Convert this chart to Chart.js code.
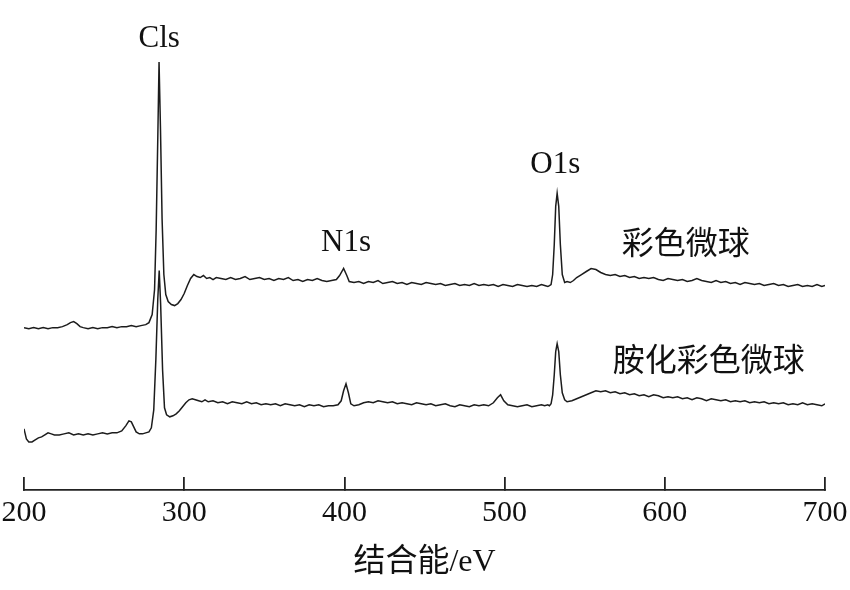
<!DOCTYPE html>
<html>
<head>
<meta charset="utf-8">
<script src="https://cdn.jsdelivr.net/npm/chart.js@4"></script>
<style>
  html, body { margin: 0; padding: 0; background: #fff; }
  #wrap { width: 850px; height: 590px; }
</style>
</head>
<body>
<div id="wrap"><canvas id="xps"></canvas></div>
<script>
// binding energy (eV) and intensity (a.u.)
const upperX = [200,203,206,209,212,215,218,221,224,227,229,231,233,235,237,240,243,246,249,252,255,258,261,264,267,270,273,276,278,280,281.5,282.5,283.5,284.3,285.2,286.2,287.3,288.5,290,292,294,296,298,300,302,304,306,308,310,312,314,316,318,320,323,326,329,332,335,338,341,344,347,350,353,356,359,362,365,368,371,374,377,380,383,386,389,392,395,397,399.5,401.5,403,406,409,412,415,418,421,424,427,430,433,436,439,442,445,448,451,454,457,460,463,466,469,472,475,478,481,484,487,490,493,496,499,502,505,508,511,514,517,520,523,525,527,528,529,530,531,531.9,532.8,533.8,534.8,536,537.5,539,541,543,545,548,551,554,557,560,563,566,569,572,575,578,581,584,587,590,593,596,599,602,605,608,611,614,617,620,623,626,629,632,635,638,641,644,647,650,653,656,659,662,665,668,671,674,677,680,683,686,689,692,695,698,700];
const upperY = [162,161,162,161,162,161,162,162,163,165,167,168,166,163,162,161,162,161,162,162,163,162,163,163,164,163,164,165,167,175,200,260,350,427,360,270,215,195,188,185,184,186,190,196,204,211,215,213,212,214,211,212,210,212,211,210,212,210,211,213,210,211,212,210,211,209,211,210,212,209,210,208,210,209,211,209,208,209,210,214,221,214,208,207,208,206,208,207,209,206,207,208,206,207,205,207,206,205,207,206,205,206,204,205,206,204,205,204,206,204,205,204,205,203,205,204,203,205,204,203,204,203,205,204,203,204,205,215,245,283,296,283,245,215,207,208,207,209,212,215,218,221,220,217,215,214,215,213,214,212,213,211,212,211,212,210,209,211,210,209,210,208,209,211,209,208,207,209,207,208,206,207,205,207,206,205,206,204,205,206,204,205,203,204,205,203,204,203,205,203,204,204];

const lowerX = [200,201.5,203,205,207,209,211,213,215,217,219,222,225,228,231,234,237,240,243,246,249,252,255,258,261,263.5,265.5,267,268.5,270,272,274,276,278,279.5,281,282.3,283.5,284.4,285.3,286.5,287.7,289,291,293,295,297,299,301,303,305,307,309,311,313,315,318,321,324,327,330,333,336,339,342,345,348,351,354,357,360,363,366,369,372,375,378,381,384,387,390,393,396,398,399.5,401,402.5,404,406,409,412,415,418,421,424,427,430,433,436,439,442,445,448,451,454,457,460,463,466,469,472,475,478,481,484,487,490,493,495.5,497.5,499.5,502,505,508,511,514,517,520,523,525,527,528,529,530,531,531.9,532.8,533.8,534.8,536,537.5,539,542,545,548,551,554,557,560,563,566,569,572,575,578,581,584,587,590,593,596,599,602,605,608,611,614,617,620,623,626,629,632,635,638,641,644,647,650,653,656,659,662,665,668,671,674,677,680,683,686,689,692,695,698,700];
const lowerY = [61,51,48,48,50,52,53,55,57,56,55,55,56,57,55,56,55,56,55,56,57,56,57,57,59,64,69,68,63,58,56,56,57,58,62,80,130,190,219,185,120,82,75,73,74,76,79,83,87,90,91,90,89,88,90,88,89,87,88,86,88,87,86,88,86,87,85,86,85,86,84,86,85,84,85,83,85,84,85,83,84,84,85,89,99,106,97,86,84,85,87,88,87,89,88,87,88,86,87,86,85,87,86,85,86,84,85,86,84,83,85,84,83,85,84,85,84,87,92,95,89,85,84,83,84,85,83,84,85,84,85,84,86,95,115,138,146,138,115,97,90,88,89,91,93,95,97,99,98,99,97,98,96,97,95,96,94,95,93,95,94,92,93,92,93,91,92,90,92,91,89,91,90,89,90,88,89,88,89,87,88,87,88,86,87,86,87,85,86,85,87,85,86,85,84,86,85];

const xTicks = [200, 300, 400, 500, 600, 700];
const peakNames = ['Cls', 'N1s', 'O1s'];
const peakAt = [284.4, 401, 531.6];
const seriesNames = ['彩色微球', '胺化彩色微球'];

const toPoints = (xs, ys) => xs.map((x, i) => ({ x: x, y: ys[i] }));

// peak and series captions, placed in data coordinates
const captions = {
  id: 'captions',
  afterDraw(chart) {
    const { ctx, scales: { x, y } } = chart;
    ctx.save();
    ctx.fillStyle = '#111';
    ctx.textAlign = 'center';
    ctx.textBaseline = 'middle';
    ctx.font = '31px "Liberation Serif"';
    const peakY = [450, 247, 324];
    peakNames.forEach((name, i) => {
      ctx.fillText(name, x.getPixelForValue(peakAt[i]), y.getPixelForValue(peakY[i]));
    });
    ctx.font = '32px "Noto Sans CJK SC"';
    ctx.fillText(seriesNames[0], x.getPixelForValue(613), y.getPixelForValue(248));
    ctx.fillText(seriesNames[1], x.getPixelForValue(627.5), y.getPixelForValue(131));
    ctx.restore();
  }
};

const lineStyle = {
  borderColor: '#1c1c1c',
  borderWidth: 1.5,
  pointRadius: 0,
  tension: 0,
  fill: false
};

new Chart(document.getElementById('xps'), {
  type: 'line',
  data: {
    datasets: [
      { label: seriesNames[0], data: toPoints(upperX, upperY), ...lineStyle },
      { label: seriesNames[1], data: toPoints(lowerX, lowerY), ...lineStyle }
    ]
  },
  options: {
    responsive: true,
    maintainAspectRatio: false,
    animation: false,
    layout: { padding: { top: 49, left: 24, right: 25, bottom: 7 } },
    plugins: {
      legend: { display: false },
      tooltip: { enabled: false }
    },
    scales: {
      x: {
        type: 'linear',
        min: 200,
        max: 700,
        afterBuildTicks: (axis) => { axis.ticks = xTicks.map(v => ({ value: v })); },
        afterFit: (axis) => { axis.paddingLeft = 0; axis.paddingRight = 0; },
        ticks: {
          color: '#111',
          padding: 18,
          maxRotation: 0,
          font: { family: '"Liberation Serif"', size: 30 }
        },
        grid: {
          drawOnChartArea: false,
          tickLength: -13,
          color: '#222',
          lineWidth: 1.8
        },
        border: { color: '#222', width: 1.8 },
        title: {
          display: true,
          text: '结合能/eV',
          color: '#111',
          padding: { top: -2, bottom: 4 },
          font: { family: '"Liberation Serif", "Noto Sans CJK SC"', size: 32, lineHeight: 1 }
        }
      },
      y: {
        display: false,
        min: 0,
        max: 440
      }
    }
  },
  plugins: [captions]
});
</script>
</body>
</html>
